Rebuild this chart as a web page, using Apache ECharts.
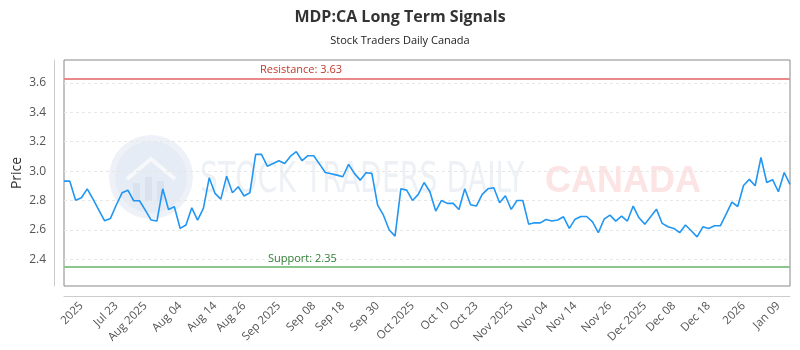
<!DOCTYPE html>
<html>
<head>
<meta charset="utf-8">
<script src="https://cdn.jsdelivr.net/npm/echarts@6/dist/echarts.min.js"></script>
<style>
  html, body { margin: 0; padding: 0; background: #fff; }
  #main { width: 800px; height: 350px; }
</style>
</head>
<body>
<div id="main"></div>
<script>
// closing prices, one per trading day
var prices = [
  2.932, 2.932, 2.803, 2.819, 2.880, 2.810, 2.735, 2.663, 2.679, 2.770,
  2.853, 2.871, 2.799, 2.799, 2.735, 2.668, 2.661, 2.880, 2.740, 2.758,
  2.611, 2.634, 2.751, 2.668, 2.747, 2.955, 2.849, 2.810, 2.966, 2.853,
  2.894, 2.831, 2.853, 3.114, 3.114, 3.034, 3.052, 3.071, 3.052, 3.102,
  3.132, 3.071, 3.105, 3.105, 3.048, 2.991, 2.982, 2.973, 2.962, 3.046,
  2.985, 2.939, 2.989, 2.985, 2.769, 2.701, 2.600, 2.559, 2.880, 2.871,
  2.801, 2.842, 2.923, 2.860, 2.729, 2.801, 2.781, 2.781, 2.740, 2.880,
  2.772, 2.763, 2.842, 2.880, 2.887, 2.785, 2.833, 2.740, 2.801, 2.801,
  2.640, 2.649, 2.649, 2.672, 2.661, 2.668, 2.690, 2.611, 2.674, 2.692,
  2.692, 2.656, 2.582, 2.674, 2.701, 2.661, 2.695, 2.661, 2.763, 2.683,
  2.640, 2.690, 2.742, 2.645, 2.622, 2.611, 2.582, 2.634, 2.595, 2.554,
  2.622, 2.611, 2.629, 2.629, 2.708, 2.790, 2.760, 2.903, 2.944, 2.901,
  3.093, 2.923, 2.942, 2.860, 2.991, 2.910
];

// x tick labels and the day index they sit on
var tickLabels = ['2025', 'Jul 23', 'Aug 2025', 'Aug 04', 'Aug 14', 'Aug 26', 'Sep 2025', 'Sep 08',
  'Sep 18', 'Sep 30', 'Oct 2025', 'Oct 10', 'Oct 23', 'Nov 2025', 'Nov 04', 'Nov 14', 'Nov 26',
  'Dec 2025', 'Dec 08', 'Dec 18', '2026', 'Jan 09'];
var tickIndex = [3, 9, 14, 20, 26, 31, 37, 43, 48, 54, 60, 66, 71, 77, 83, 88, 94, 100, 105, 111, 117, 123];

var yTicks = [2.4, 2.6, 2.8, 3.0, 3.2, 3.4, 3.6];
var resistance = 3.63;
var support = 2.35;

var days = prices.map(function (p, i) { return String(i); });

var chart = echarts.init(document.getElementById('main'));

var option = {
  animation: false,
  title: {
    left: 'center',
    top: 4,
    text: 'MDP:CA Long Term Signals',
    subtext: 'Stock Traders Daily Canada',
    itemGap: 10,
    textStyle: { fontFamily: 'Open Sans', fontSize: 16, fontWeight: 'bold', color: '#333' },
    subtextStyle: { fontFamily: 'Open Sans', fontSize: 11, color: '#222' }
  },
  graphic: [
    {
      type: 'group', left: 109, top: 135, z: -10, silent: true,
      children: [
        { type: 'circle', shape: { cx: 42, cy: 42, r: 42 }, style: { fill: '#eef2f8' } },
        { type: 'circle', shape: { cx: 42, cy: 42, r: 36 }, style: { fill: '#e6ecf5' } },
        { type: 'polyline', shape: { points: [[18, 44], [42, 24], [66, 44]] }, style: { stroke: '#f6f8fb', lineWidth: 4, fill: null } },
        { type: 'rect', shape: { x: 24, y: 48, width: 7, height: 18 }, style: { fill: '#d9e2ee' } },
        { type: 'rect', shape: { x: 36, y: 42, width: 7, height: 24 }, style: { fill: '#d9e2ee' } },
        { type: 'rect', shape: { x: 48, y: 46, width: 7, height: 20 }, style: { fill: '#d9e2ee' } }
      ]
    },
    {
      type: 'text', left: 200, top: 160, z: -10, silent: true, scaleX: 0.75,
      style: { text: 'STOCK TRADERS DAILY', fontFamily: 'DejaVu Sans Condensed', fontSize: 42, fill: '#edf1f6' }
    },
    {
      type: 'text', left: 545, top: 164, z: -10, silent: true,
      style: { text: 'CANADA', fontFamily: 'Liberation Sans', fontWeight: 'bold', fontSize: 36, fill: '#fde4e4' }
    }
  ],
  grid: {
    left: 64,
    right: 10,
    top: 60,
    bottom: 64,
    outerBoundsMode: 'none',
    show: true,
    borderColor: '#888',
    borderWidth: 1
  },
  xAxis: {
    type: 'category',
    data: days,
    boundaryGap: false,
    offset: 10,
    axisLine: { lineStyle: { color: '#ccc' } },
    axisTick: { show: false },
    splitLine: { show: false },
    axisLabel: {
      rotate: 45,
      fontFamily: 'Open Sans',
      fontSize: 11.5,
      color: '#555',
      interval: function (idx) { return tickIndex.indexOf(idx) >= 0; },
      formatter: function (val, idx) { return tickLabels[tickIndex.indexOf(idx)]; }
    }
  },
  yAxis: {
    type: 'value',
    min: 2.22,
    max: 3.755,
    offset: 10,
    name: 'Price',
    nameLocation: 'middle',
    nameGap: 30,
    nameMoveOverlap: false,
    nameTextStyle: { fontFamily: 'Open Sans', fontSize: 14, color: '#333' },
    axisLine: { show: true, lineStyle: { color: '#ccc' } },
    axisTick: { show: false, customValues: yTicks },
    axisLabel: {
      customValues: yTicks,
      fontFamily: 'Open Sans',
      fontSize: 12,
      color: '#555',
      formatter: function (v) { return v.toFixed(1); }
    },
    splitLine: { show: true, lineStyle: { color: '#e6e6e6', type: [3, 3] } }
  },
  series: [
    {
      type: 'line',
      data: prices,
      showSymbol: false,
      symbol: 'none',
      lineStyle: { color: '#2196f3', width: 1.6 },
      markLine: {
        silent: true,
        symbol: 'none',
        data: [
          {
            yAxis: resistance,
            lineStyle: { color: '#e8898a', width: 2, type: 'solid' },
            label: {
              formatter: 'Resistance: ' + resistance.toFixed(2),
              position: 'insideStartTop',
              distance: [196, 3],
              color: '#c0392b',
              fontFamily: 'Open Sans',
              fontSize: 11
            }
          },
          {
            yAxis: support,
            lineStyle: { color: '#8cc68c', width: 2, type: 'solid' },
            label: {
              formatter: 'Support: ' + support.toFixed(2),
              position: 'insideStartTop',
              distance: [204, 3],
              color: '#2e7d32',
              fontFamily: 'Open Sans',
              fontSize: 11
            }
          }
        ]
      }
    }
  ]
};

chart.setOption(option);
</script>
</body>
</html>
